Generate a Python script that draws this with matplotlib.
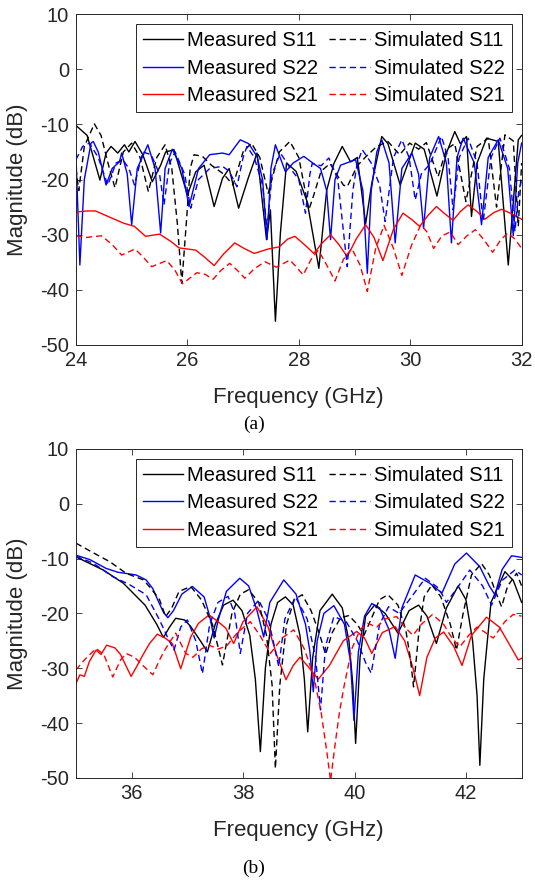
import matplotlib
matplotlib.use("Agg")
import matplotlib.pyplot as plt

plt.rcParams["font.family"] = ["Liberation Sans", "DejaVu Sans"]
plt.rcParams["axes.unicode_minus"] = False

# ---- (a) 24-32 GHz, (frequency GHz, magnitude dB) ----
a_meas_s11 = [(24.0, -10.2), (24.2, -12.0), (24.43, -20.1), (24.54, -15.2), (24.63, -14.0), (24.75, -15.2),
              (24.87, -13.7), (24.95, -15.0), (25.06, -13.1), (25.2, -15.5), (25.37, -20.4), (25.52, -17.4),
              (25.61, -15.0), (25.76, -14.6), (26.0, -22.8), (26.15, -18.6), (26.3, -17.4), (26.48, -24.9),
              (26.63, -19.8), (26.75, -18.0), (26.92, -25.2), (27.1, -19.5), (27.25, -15.2), (27.42, -30.9),
              (27.49, -25.5), (27.58, -45.7), (27.67, -29.7), (27.78, -17.0), (27.95, -18.5), (28.15, -24.0),
              (28.36, -36.1), (28.5, -22.0), (28.63, -17.1), (28.78, -14.0), (28.93, -16.8), (29.05, -16.0),
              (29.2, -28.0), (29.31, -20.7), (29.49, -12.2), (29.6, -13.5), (29.82, -21.0), (30.09, -13.4),
              (30.25, -14.5), (30.48, -23.0), (30.65, -15.2), (30.8, -11.3), (30.9, -13.5), (31.01, -12.2),
              (31.1, -26.7), (31.2, -17.0), (31.37, -12.5), (31.58, -13.1), (31.76, -35.5), (31.94, -12.8),
              (32.0, -12.0)]
a_sim_s11 = [(24.0, -18.0), (24.05, -22.0), (24.15, -14.0), (24.33, -9.9), (24.45, -12.0), (24.6, -18.0),
             (24.7, -21.5), (24.85, -15.0), (25.0, -13.4), (25.15, -16.0), (25.3, -22.2), (25.45, -16.0),
             (25.6, -13.7), (25.72, -18.0), (25.82, -28.0), (25.9, -38.8), (25.98, -28.0), (26.05, -18.0),
             (26.12, -15.5), (26.27, -15.8), (26.43, -17.4), (26.65, -19.0), (26.82, -21.0), (27.0, -15.0),
             (27.15, -13.4), (27.3, -16.0), (27.45, -22.5), (27.65, -15.0), (27.84, -13.1), (28.0, -16.0),
             (28.18, -25.5), (28.26, -23.1), (28.4, -18.5), (28.56, -17.1), (28.8, -21.0), (28.87, -21.3),
             (29.05, -17.5), (29.21, -15.8), (29.4, -14.0), (29.6, -13.1), (29.81, -15.5), (29.99, -13.4),
             (30.15, -14.5), (30.29, -13.3), (30.5, -19.5), (30.65, -14.5), (30.8, -13.5), (31.0, -24.0),
             (31.2, -14.0), (31.4, -12.5), (31.55, -25.0), (31.7, -11.9), (31.85, -13.0), (31.94, -28.5),
             (32.0, -17.0)]
a_meas_s22 = [(24.0, -15.8), (24.07, -35.5), (24.15, -20.0), (24.27, -13.4), (24.31, -13.1), (24.4, -15.0),
              (24.54, -21.0), (24.65, -18.0), (24.78, -16.8), (24.82, -15.2), (24.92, -19.0), (25.0, -28.2),
              (25.1, -18.0), (25.29, -13.7), (25.42, -18.0), (25.52, -29.7), (25.6, -18.0), (25.73, -14.5),
              (25.9, -18.0), (26.03, -24.9), (26.2, -18.0), (26.4, -15.5), (26.63, -15.2), (26.75, -15.5),
              (26.95, -12.8), (27.1, -13.5), (27.25, -15.8), (27.35, -20.0), (27.43, -30.9), (27.5, -18.0),
              (27.58, -13.7), (27.76, -18.6), (27.9, -17.0), (28.09, -15.8), (28.25, -17.0), (28.39, -18.0),
              (28.5, -22.0), (28.57, -30.9), (28.65, -20.0), (28.75, -17.4), (29.02, -16.4), (29.15, -22.0),
              (29.23, -37.0), (29.3, -22.0), (29.4, -15.0), (29.49, -12.8), (29.62, -17.0), (29.73, -31.5),
              (29.85, -18.0), (30.03, -15.2), (30.15, -19.0), (30.24, -28.8), (30.35, -16.0), (30.51, -12.2),
              (30.65, -17.0), (30.74, -31.5), (30.84, -16.0), (30.95, -12.5), (31.15, -17.0), (31.28, -28.2),
              (31.4, -16.0), (31.58, -12.8), (31.75, -18.0), (31.85, -30.2), (31.93, -17.0), (32.0, -13.4)]
a_sim_s22 = [(24.0, -16.4), (24.12, -14.0), (24.24, -13.4), (24.4, -16.0), (24.57, -21.0), (24.72, -17.0),
             (24.84, -16.4), (24.95, -18.0), (25.05, -21.0), (25.2, -15.0), (25.35, -15.5), (25.5, -19.0),
             (25.58, -24.6), (25.68, -17.0), (25.78, -15.0), (25.95, -19.0), (26.06, -25.2), (26.2, -20.0),
             (26.4, -18.0), (26.63, -17.6), (26.75, -18.5), (26.89, -21.3), (27.0, -16.0), (27.07, -14.0),
             (27.2, -16.0), (27.35, -21.0), (27.43, -29.1), (27.52, -19.0), (27.67, -15.2), (27.85, -18.0),
             (28.0, -20.0), (28.12, -26.1), (28.2, -19.0), (28.24, -17.1), (28.4, -17.5), (28.54, -16.1),
             (28.7, -20.0), (28.87, -35.8), (28.97, -22.0), (29.05, -17.0), (29.14, -14.6), (29.3, -17.0),
             (29.45, -21.0), (29.55, -27.6), (29.7, -16.0), (29.85, -12.8), (29.98, -16.0), (30.09, -23.7),
             (30.2, -19.0), (30.36, -17.1), (30.56, -12.2), (30.68, -16.0), (30.77, -25.5), (30.88, -16.0),
             (31.04, -12.5), (31.2, -17.0), (31.31, -27.6), (31.45, -16.0), (31.61, -12.5), (31.78, -18.0),
             (31.88, -29.4), (31.95, -22.0), (32.0, -20.0)]
a_meas_s21 = [(24.0, -25.9), (24.2, -25.7), (24.35, -25.7), (24.6, -26.8), (24.85, -27.9), (25.05, -28.5),
              (25.25, -30.3), (25.5, -29.9), (25.7, -31.2), (25.85, -32.4), (26.15, -32.8), (26.3, -34.0),
              (26.48, -35.6), (26.65, -33.5), (26.85, -31.5), (27.02, -32.5), (27.2, -33.4), (27.45, -32.6),
              (27.65, -32.2), (27.8, -30.8), (27.93, -30.3), (28.1, -31.8), (28.27, -33.4), (28.42, -31.5),
              (28.57, -30.0), (28.72, -31.8), (28.87, -34.0), (29.03, -30.8), (29.2, -28.2), (29.35, -30.5),
              (29.51, -34.7), (29.7, -29.0), (29.87, -26.1), (30.02, -27.2), (30.17, -28.5), (30.32, -26.5),
              (30.47, -24.9), (30.62, -26.2), (30.77, -27.4), (30.9, -25.8), (31.04, -24.6), (31.2, -25.8),
              (31.34, -27.2), (31.5, -26.0), (31.64, -25.4), (31.82, -26.2), (32.0, -27.2)]
a_sim_s21 = [(24.0, -30.2), (24.19, -30.5), (24.46, -30.2), (24.65, -31.8), (24.82, -33.7), (25.06, -32.6),
             (25.2, -34.0), (25.36, -35.8), (25.63, -34.7), (25.78, -36.5), (25.91, -38.9), (26.17, -36.9),
             (26.32, -37.2), (26.46, -38.1), (26.6, -36.5), (26.76, -35.2), (26.9, -36.5), (27.03, -37.9),
             (27.2, -36.2), (27.39, -34.9), (27.6, -35.9), (27.84, -34.6), (27.95, -35.8), (28.08, -37.3),
             (28.22, -34.5), (28.35, -32.8), (28.5, -35.5), (28.65, -38.4), (28.8, -34.5), (28.95, -32.5),
             (29.1, -35.5), (29.23, -40.3), (29.38, -32.5), (29.53, -28.3), (29.7, -32.5), (29.85, -37.4),
             (30.02, -32.0), (30.19, -28.2), (30.3, -29.5), (30.42, -32.5), (30.57, -30.2), (30.72, -29.5),
             (30.86, -31.8), (31.02, -30.2), (31.17, -29.1), (31.33, -31.0), (31.48, -33.2), (31.62, -31.0),
             (31.75, -29.7), (31.88, -30.8), (32.0, -32.5)]

# ---- (b) 35-43 GHz ----
b_meas_s11 = [(35.0, -9.7), (35.49, -12.1), (35.85, -14.5), (36.24, -18.5), (36.45, -22.0), (36.57, -24.4),
              (36.68, -22.5), (36.79, -20.9), (36.95, -21.2), (37.06, -22.4), (37.2, -24.5), (37.36, -27.0),
              (37.5, -22.0), (37.65, -18.5), (37.82, -17.6), (37.98, -19.5), (38.12, -24.0), (38.22, -32.0),
              (38.31, -45.2), (38.4, -30.0), (38.5, -22.0), (38.62, -18.0), (38.76, -17.0), (38.9, -18.5),
              (39.02, -24.0), (39.1, -32.0), (39.16, -41.6), (39.25, -28.0), (39.38, -19.5), (39.6, -16.5),
              (39.78, -19.0), (39.9, -25.0), (39.97, -33.0), (40.02, -43.7), (40.1, -28.0), (40.2, -20.5),
              (40.36, -18.5), (40.55, -20.0), (40.78, -23.6), (40.98, -19.5), (41.15, -18.5), (41.3, -20.5),
              (41.47, -25.5), (41.65, -19.0), (41.86, -15.0), (42.0, -17.5), (42.12, -25.0), (42.2, -35.0),
              (42.25, -47.7), (42.32, -32.0), (42.45, -18.0), (42.7, -12.4), (42.85, -14.0), (43.0, -18.0)]
b_sim_s11 = [(35.0, -7.2), (35.3, -8.9), (35.61, -10.6), (35.9, -12.7), (36.21, -13.9), (36.35, -15.5),
             (36.5, -17.5), (36.61, -20.6), (36.72, -19.0), (36.85, -16.0), (37.06, -15.1), (37.25, -17.5),
             (37.45, -22.0), (37.63, -29.4), (37.8, -20.0), (37.95, -16.5), (38.1, -15.7), (38.28, -18.0),
             (38.42, -24.0), (38.52, -33.0), (38.58, -48.3), (38.66, -33.0), (38.78, -22.0), (38.92, -17.5),
             (39.06, -16.6), (39.22, -19.5), (39.38, -24.0), (39.48, -27.5), (39.6, -23.5), (39.75, -20.8),
             (39.9, -20.4), (40.05, -22.0), (40.17, -24.0), (40.3, -21.0), (40.45, -17.5), (40.6, -16.6),
             (40.78, -18.5), (40.92, -23.0), (41.0, -28.0), (41.06, -33.4), (41.15, -24.0), (41.25, -17.0),
             (41.39, -14.8), (41.55, -17.0), (41.72, -22.0), (41.83, -26.7), (41.95, -20.0), (42.1, -13.0),
             (42.28, -10.9), (42.42, -13.0), (42.55, -16.5), (42.64, -18.8), (42.75, -15.0), (42.91, -12.7),
             (43.0, -15.0)]
b_meas_s22 = [(35.0, -9.4), (35.25, -10.2), (35.54, -11.8), (35.75, -12.5), (36.08, -13.0), (36.26, -13.9),
              (36.38, -15.5), (36.47, -17.6), (36.57, -19.8), (36.65, -20.8), (36.75, -19.5), (36.9, -16.5),
              (37.09, -15.1), (37.3, -17.0), (37.4, -20.5), (37.48, -24.5), (37.56, -21.0), (37.7, -16.0),
              (37.94, -13.6), (38.1, -15.0), (38.25, -19.5), (38.37, -24.3), (38.48, -18.0), (38.73, -13.9),
              (38.95, -16.5), (39.12, -22.0), (39.2, -27.0), (39.26, -34.3), (39.33, -25.0), (39.45, -20.0),
              (39.63, -18.6), (39.82, -22.0), (39.93, -29.0), (39.99, -39.5), (40.07, -27.0), (40.18, -20.5),
              (40.31, -18.2), (40.45, -19.0), (40.62, -23.0), (40.73, -28.2), (40.85, -19.0), (41.09, -13.0),
              (41.35, -14.5), (41.57, -16.3), (41.8, -11.0), (42.01, -9.0), (42.25, -11.5), (42.42, -15.0),
              (42.52, -16.6), (42.65, -12.0), (42.82, -9.5), (43.0, -9.8)]
b_sim_s22 = [(35.0, -9.6), (35.3, -10.8), (35.66, -13.3), (35.95, -14.7), (36.26, -16.6), (36.5, -21.2),
             (36.65, -24.5), (36.76, -26.7), (36.88, -22.5), (37.0, -21.2), (37.15, -25.0), (37.27, -31.0),
             (37.4, -22.0), (37.55, -18.0), (37.73, -16.9), (37.85, -20.0), (37.95, -27.3), (38.08, -20.0),
             (38.28, -17.6), (38.45, -21.0), (38.55, -25.5), (38.64, -29.7), (38.75, -21.0), (38.94, -17.0),
             (39.15, -21.0), (39.3, -28.0), (39.39, -37.6), (39.48, -26.0), (39.63, -20.6), (39.85, -21.5),
             (40.05, -25.0), (40.2, -29.0), (40.3, -30.9), (40.45, -22.0), (40.61, -18.8), (40.8, -20.0),
             (40.95, -18.0), (41.27, -13.6), (41.51, -15.4), (41.65, -18.0), (41.8, -16.0), (42.07, -12.1),
             (42.3, -15.0), (42.46, -18.5), (42.65, -14.0), (42.88, -12.1), (43.0, -13.0)]
b_meas_s21 = [(35.0, -32.8), (35.07, -31.2), (35.15, -31.5), (35.24, -28.8), (35.36, -26.7), (35.45, -27.5),
              (35.55, -25.8), (35.7, -26.3), (35.8, -27.5), (35.99, -31.5), (36.1, -29.5), (36.2, -27.6),
              (36.32, -25.5), (36.46, -23.8), (36.6, -24.5), (36.73, -25.5), (36.88, -30.1), (37.06, -24.3),
              (37.2, -21.8), (37.39, -20.3), (37.55, -21.5), (37.69, -22.7), (37.83, -25.5), (38.0, -21.5),
              (38.25, -18.8), (38.45, -22.5), (38.6, -27.5), (38.77, -32.1), (38.9, -29.5), (39.02, -28.0),
              (39.15, -29.5), (39.35, -32.0), (39.55, -29.5), (39.8, -25.0), (40.04, -23.3), (40.18, -24.5),
              (40.31, -27.3), (40.5, -23.5), (40.73, -22.4), (40.9, -25.0), (41.05, -30.0), (41.17, -35.0),
              (41.3, -28.0), (41.45, -24.5), (41.6, -23.4), (41.78, -26.0), (41.93, -29.5), (42.1, -24.0),
              (42.37, -20.7), (42.6, -22.5), (42.8, -26.0), (42.94, -28.5), (43.0, -28.2)]
b_sim_s21 = [(35.0, -30.3), (35.15, -28.5), (35.36, -26.4), (35.5, -27.5), (35.66, -31.6), (35.8, -28.5),
             (35.9, -27.3), (36.05, -28.0), (36.2, -29.5), (36.38, -31.2), (36.5, -28.5), (36.61, -26.4),
             (36.79, -23.6), (36.97, -27.3), (37.1, -28.0), (37.25, -26.5), (37.39, -25.8), (37.55, -26.5),
             (37.7, -26.0), (37.9, -23.5), (38.13, -21.5), (38.3, -24.0), (38.49, -27.3), (38.7, -24.5),
             (38.91, -23.0), (39.1, -26.5), (39.27, -31.5), (39.4, -38.0), (39.5, -45.0), (39.57, -50.5),
             (39.65, -44.0), (39.73, -38.0), (39.81, -33.4), (39.95, -26.5), (40.1, -23.0), (40.23, -21.8),
             (40.4, -22.5), (40.55, -21.0), (40.76, -20.6), (40.9, -22.5), (41.05, -24.0), (41.2, -22.0),
             (41.4, -20.2), (41.6, -22.0), (41.75, -24.5), (41.89, -26.1), (42.05, -24.0), (42.2, -22.5),
             (42.35, -23.5), (42.49, -24.5), (42.7, -21.5), (42.85, -20.2), (43.0, -20.5)]

labels = ["Measured S11", "Measured S22", "Measured S21",
          "Simulated S11", "Simulated S22", "Simulated S21"]
colors = ["black", "blue", "red", "black", "blue", "red"]
dash = (0, (4.5, 2.8))
axcol = "#262626"

fig = plt.figure(figsize=(5.35, 8.8), dpi=100)
ax1 = fig.add_axes([0.142, 0.608, 0.833, 0.376])
ax2 = fig.add_axes([0.142, 0.116, 0.833, 0.374])


def draw(ax, series, xlim, xticks):
    handles = []
    for i, pts in enumerate(series):
        f = [p[0] for p in pts]
        m = [p[1] for p in pts]
        ls = "-" if i < 3 else dash
        h, = ax.plot(f, m, color=colors[i], linestyle=ls, lw=1.0)
        handles.append(h)
    ax.set_xlim(xlim)
    ax.set_ylim(-50, 10)
    ax.set_xticks(xticks)
    ax.set_yticks([-50, -40, -30, -20, -10, 0, 10])
    ax.tick_params(direction="in", top=True, right=True, length=4, width=0.6,
                   colors=axcol, labelsize=14.5, labelcolor=axcol)
    ax.tick_params(axis="x", pad=4.5)
    ax.tick_params(axis="y", pad=5)
    for s in ax.spines.values():
        s.set_color(axcol)
        s.set_linewidth(0.7)
    ax.set_xlabel("Frequency (GHz)", fontsize=16, color=axcol)
    ax.set_ylabel("Magnitude (dB)", fontsize=16, color=axcol)
    ax.xaxis.set_label_coords(0.5, -0.128)
    ax.yaxis.set_label_coords(-0.108, 0.5)
    leg = ax.legend(handles, labels, ncol=2, loc="upper right", fontsize=14.5,
                    handlelength=2.0, handletextpad=0.2, columnspacing=0.55,
                    labelspacing=0.42, borderpad=0.35, fancybox=False,
                    framealpha=1, edgecolor=axcol)
    leg.get_frame().set_linewidth(0.7)


draw(ax1, [a_meas_s11, a_meas_s22, a_meas_s21, a_sim_s11, a_sim_s22, a_sim_s21],
     (24, 32), [24, 26, 28, 30, 32])
draw(ax2, [b_meas_s11, b_meas_s22, b_meas_s21, b_sim_s11, b_sim_s22, b_sim_s21],
     (35, 43), [36, 38, 40, 42])

fig.text(254 / 535, 1 - 424 / 880, "(a)", family="Liberation Serif", fontsize=14,
         ha="center", va="center")
fig.text(254 / 535, 1 - 868 / 880, "(b)", family="Liberation Serif", fontsize=14,
         ha="center", va="center")

fig.savefig("out.png", dpi=100)
